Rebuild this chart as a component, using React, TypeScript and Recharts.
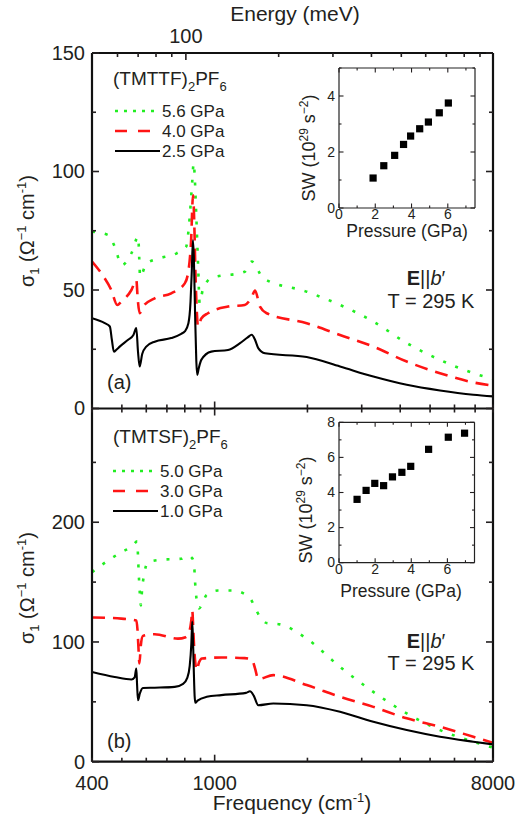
import React from 'react';
import { LineChart, Line, XAxis, YAxis, ScatterChart, Scatter } from 'recharts';

const FONT = '"Liberation Sans", Arial, Helvetica, sans-serif';
const TXT = '#231f20';
const GREEN = '#22ee22';
const RED = '#ff1414';
const BLACK = '#000000';
const CM_PER_MEV = 8.0655;

// ---------- panel (a): (TMTTF)2PF6 ----------
const freqA56 = [400, 451, 475, 499, 537, 565, 569, 573, 600, 663, 753, 808, 830, 845, 855, 863, 872, 884, 894, 915, 975, 1252, 1319, 1438, 1989, 2551, 3272, 4199, 5385, 6907, 8000];
const sigA56 = [74.6, 73.2, 68, 60.5, 65.5, 72.5, 64, 55.6, 61, 63.4, 65.5, 68.3, 80.9, 95, 103.5, 96, 80.9, 60, 44.4, 50, 55, 57.7, 62, 55, 49.3, 43.7, 36.7, 27.6, 20.5, 14.9, 12.4];

const freqA40 = [400, 429, 462, 483, 498, 537, 557, 563, 571, 586, 639, 723, 800, 822, 838, 851, 858, 866, 876, 883, 905, 951, 1105, 1252, 1319, 1352, 1403, 1475, 1989, 2551, 3272, 4199, 5385, 6907, 8000];
const sigA40 = [62, 57, 50, 43.7, 45.1, 50, 54.2, 46, 40.2, 43, 46.5, 48.6, 52.8, 58, 70, 90, 80, 58, 40, 34.6, 38, 40.2, 43, 43.7, 47, 49.8, 43, 40.2, 36, 31, 26.1, 19.8, 14.9, 11, 9.6];

const freqA25 = [400, 440, 457, 464, 471, 480, 492, 524, 545, 557, 564, 571, 582, 600, 639, 723, 779, 800, 822, 835, 843, 850, 856, 864, 872, 878, 888, 905, 975, 1105, 1209, 1280, 1319, 1352, 1385, 1457, 1989, 2551, 3272, 4199, 5385, 6907, 8000];
const sigA25 = [38.1, 36.0, 34.6, 29.0, 24.0, 24.8, 26.1, 29.0, 31.0, 33.9, 24.0, 17.7, 23.0, 26.1, 28.2, 29.7, 31.5, 32.5, 36.0, 45.0, 58.0, 71.0, 64.0, 40.0, 20.0, 14.2, 17.0, 20.5, 24.0, 24.7, 27.6, 30.0, 31.1, 29.0, 25.5, 23.3, 21.7, 17.7, 13.5, 10.0, 7.6, 5.8, 5.1];

// ---------- panel (b): (TMTSF)2PF6 ----------
const freqB50 = [400, 451, 498, 540, 561, 564, 567, 572, 576, 582, 590, 608, 671, 779, 819, 845, 857, 864, 872, 882, 890, 915, 940, 1025, 1150, 1252, 1300, 1340, 1403, 1475, 1629, 1989, 2551, 3272, 4199, 5385, 6907, 8000];
const sigB50 = [158.3, 168, 175, 180, 184, 172, 158, 140, 130.6, 145, 156, 166.7, 168.7, 169.5, 172.2, 170, 165.3, 150, 137.5, 130, 128, 133, 139, 143, 143, 140, 137, 131, 120.8, 115.8, 114.7, 102.8, 79.2, 58.3, 40.3, 26.4, 16.7, 11.7];

const freqB30 = [400, 498, 557, 562, 566, 570, 576, 585, 639, 760, 805, 830, 840, 846, 852, 858, 866, 874, 890, 910, 1051, 1252, 1319, 1352, 1385, 1550, 1989, 2551, 3272, 4199, 5385, 6907, 8000];
const sigB30 = [120.5, 119.5, 118, 110, 95, 82, 97, 105, 106.5, 102.8, 104, 110, 118, 126.4, 112, 95, 82, 76.4, 83, 86.2, 87, 86.5, 85.5, 78, 69, 72.3, 64, 54.2, 45.8, 36.2, 29.2, 20.8, 15.8];

const freqB10 = [400, 474, 537, 550, 557, 560, 564, 572, 585, 639, 742, 790, 815, 830, 840, 846, 851, 856, 861, 866, 880, 943, 1051, 1264, 1302, 1340, 1385, 1550, 1989, 2551, 3272, 4199, 5385, 6907, 8000];
const sigB10 = [75, 70.8, 68.7, 70.5, 77.8, 65, 51.4, 57, 61.5, 61.8, 62.5, 65, 70, 80, 98, 117, 100, 75, 55, 49.2, 51, 54.2, 55.6, 57.5, 58.8, 55, 47.2, 48.6, 47.2, 41.7, 33.3, 26.4, 20.8, 16.7, 14.5];

// ---------- insets: spectral weight vs pressure ----------
const pressA = [1.88, 2.47, 3.07, 3.56, 3.95, 4.45, 4.93, 5.53, 6.03];
const swA = [1.07, 1.51, 1.88, 2.27, 2.57, 2.83, 3.07, 3.40, 3.75];
const pressB = [1.0, 1.5, 1.98, 2.47, 2.96, 3.48, 3.97, 4.96, 6.05, 6.95];
const swB = [3.61, 4.12, 4.52, 4.39, 4.89, 5.15, 5.49, 6.46, 7.15, 7.38];

// ---------- ticks ----------
const freqTicks = [400, 500, 600, 700, 800, 900, 1000, 2000, 3000, 4000, 5000, 6000, 7000, 8000];
const freqMajor = [1000];
const freqLabels = [400, 1000, 8000];
const energyTicksMeV = [60, 70, 80, 90, 100, 200, 300, 400, 500, 600, 700, 800, 900];
const energyMajorMeV = [100];
const sigTicksA = [0, 25, 50, 75, 100, 125, 150];
const sigMajorA = [0, 50, 100, 150];
const sigTicksB = [0, 50, 100, 150, 200, 250];
const sigMajorB = [0, 100, 200];
const pTicks = [0, 1, 2, 3, 4, 5, 6, 7];
const pMajor = [0, 2, 4, 6];
const swTicksA = [0, 1, 2, 3, 4, 5];
const swMajorA = [0, 2, 4];
const swTicksB = [0, 1, 2, 3, 4, 5, 6, 7, 8];
const swMajorB = [0, 2, 4, 6, 8];

const energyTicksCm = energyTicksMeV.map((e) => e * CM_PER_MEV);
const energyMajorCm = energyMajorMeV.map((e) => e * CM_PER_MEV);

const toPts = (f: number[], s: number[]) => f.map((x, i) => ({ f: x, s: s[i] }));
const toP = (p: number[], w: number[]) => p.map((x, i) => ({ p: x, sw: w[i] }));

type Orient = 'bottom' | 'top' | 'left' | 'right';
interface TickCfg {
  orient: Orient;
  majors: number[];
  labels?: number[];
  fmt?: (v: number) => string;
  major: number;
  minor: number;
  offset?: number;
  fontSize?: number;
  sw?: number;
}
const near = (arr: number[], v: number) => arr.some((a) => Math.abs(a - v) < 1e-6 * Math.max(1, Math.abs(a)));

function makeTick(c: TickCfg) {
  return (p: any) => {
    const x = Number(p.x);
    const y = Number(p.y);
    const v = Number(p.payload ? p.payload.value : NaN);
    const L = near(c.majors, v) ? c.major : c.minor;
    const show = c.labels ? near(c.labels, v) : false;
    const label = show ? (c.fmt ? c.fmt(v) : String(v)) : null;
    const fs = c.fontSize ?? 20;
    const off = c.offset ?? 8;
    let x2 = x, y2 = y, tx = x, ty = y;
    let anchor: 'middle' | 'end' | 'start' = 'middle';
    let dy = '0';
    if (c.orient === 'bottom') { y2 = y - L; ty = y + off; }
    else if (c.orient === 'top') { y2 = y + L; ty = y - off; }
    else if (c.orient === 'left') { x2 = x + L; tx = x - off; anchor = 'end'; dy = '0.34em'; }
    else { x2 = x - L; tx = x + off; anchor = 'start'; dy = '0.34em'; }
    return (
      <g>
        <line x1={x} y1={y} x2={x2} y2={y2} stroke={TXT} strokeWidth={c.sw ?? 1.6} />
        {label !== null && (
          <text x={tx} y={ty} dy={dy} textAnchor={anchor} fontSize={fs} fill={TXT} fontFamily={FONT}>
            {label}
          </text>
        )}
      </g>
    );
  };
}

const frame = { stroke: '#111', strokeWidth: 2.2 };
const insetFrame = { stroke: '#222', strokeWidth: 1.2 };

const lineStyles = {
  green: { stroke: GREEN, strokeWidth: 2.6, strokeDasharray: '3 10' },
  red: { stroke: RED, strokeWidth: 2.6, strokeDasharray: '13 8' },
  black: { stroke: BLACK, strokeWidth: 2.1 },
};

function MainPanel(props: {
  top: number; height: number; margin: any; yDomain: [number, number]; yTicks: number[]; yMajor: number[];
  yLabels: number[]; showEnergy: boolean; showFreqLabels: boolean; drawTopLine: boolean;
  series: { data: { f: number; s: number }[]; style: any; name: string }[];
}) {
  const p = props;
  return (
    <div style={{ position: 'absolute', left: 0, top: p.top }}>
      <LineChart width={520} height={p.height} margin={p.margin}>
        <XAxis
          xAxisId="b" dataKey="f" type="number" scale="log" domain={[400, 8000]} allowDataOverflow
          ticks={freqTicks} interval={0} height={1} orientation="bottom" tickLine={false} tickSize={0} tickMargin={0}
          axisLine={frame}
          tick={makeTick({ orient: 'bottom', majors: freqMajor, labels: p.showFreqLabels ? freqLabels : [], major: 7, minor: 4, offset: 28 })}
        />
        {p.showEnergy ? (
          <XAxis
            xAxisId="t" dataKey="f" type="number" scale="log" domain={[400, 8000]} allowDataOverflow
            ticks={energyTicksCm} interval={0} height={1} orientation="top" tickLine={false} tickSize={0} tickMargin={0}
            axisLine={frame}
            tick={makeTick({ orient: 'top', majors: energyMajorCm, labels: energyMajorCm, fmt: (v) => String(Math.round(v / CM_PER_MEV)), major: 7, minor: 4, offset: 10 })}
          />
        ) : (
          <XAxis
            xAxisId="t" dataKey="f" type="number" scale="log" domain={[400, 8000]} allowDataOverflow
            ticks={freqTicks} interval={0} height={1} orientation="top" tickLine={false} tickSize={0} tickMargin={0}
            axisLine={p.drawTopLine ? frame : false}
            tick={makeTick({ orient: 'top', majors: freqMajor, labels: [], major: 7, minor: 4 })}
          />
        )}
        <YAxis
          yAxisId="l" type="number" domain={p.yDomain} allowDataOverflow ticks={p.yTicks} interval={0} width={1}
          orientation="left" tickLine={false} tickSize={0} tickMargin={0} axisLine={frame}
          tick={makeTick({ orient: 'left', majors: p.yMajor, labels: p.yLabels, major: 7, minor: 4, offset: 7 })}
        />
        <YAxis
          yAxisId="r" type="number" domain={p.yDomain} allowDataOverflow ticks={p.yTicks} interval={0} width={1}
          orientation="right" tickLine={false} tickSize={0} tickMargin={0} axisLine={frame}
          tick={makeTick({ orient: 'right', majors: p.yMajor, labels: [], major: 7, minor: 4 })}
        />
        <Line xAxisId="t" yAxisId="r" data={p.series[0].data} dataKey="s" stroke="none" dot={false} isAnimationActive={false} legendType="none" />
        {p.series.map((s) => (
          <Line
            key={s.name} name={s.name} xAxisId="b" yAxisId="l" data={s.data} dataKey="s" type="monotone"
            dot={false} isAnimationActive={false} {...s.style} strokeLinecap="butt" strokeLinejoin="round"
          />
        ))}
      </LineChart>
    </div>
  );
}

const squareShape = (p: any) => (
  <rect x={p.cx - 3.6} y={p.cy - 3.6} width={7.2} height={7.2} fill="#000" />
);
const emptyShape = () => <g />;

function Inset(props: { left: number; top: number; margin: any; data: { p: number; sw: number }[]; yDomain: [number, number]; yTicks: number[]; yMajor: number[] }) {
  const p = props;
  return (
    <div style={{ position: 'absolute', left: p.left, top: p.top }}>
      <ScatterChart width={200} height={200} margin={p.margin}>
        <XAxis xAxisId="b" dataKey="p" type="number" domain={[0, 7.5]} allowDataOverflow ticks={pTicks} interval={0} height={1}
          orientation="bottom" tickLine={false} tickSize={0} tickMargin={0} axisLine={insetFrame}
          tick={makeTick({ orient: 'bottom', majors: pMajor, labels: pMajor, major: 4.5, minor: 2.5, offset: 11, fontSize: 14, sw: 1.1 })} />
        <XAxis xAxisId="t" dataKey="p" type="number" domain={[0, 7.5]} allowDataOverflow ticks={pTicks} interval={0} height={1}
          orientation="top" tickLine={false} tickSize={0} tickMargin={0} axisLine={insetFrame}
          tick={makeTick({ orient: 'top', majors: pMajor, labels: [], major: 4.5, minor: 2.5, sw: 1.1 })} />
        <YAxis yAxisId="l" dataKey="sw" type="number" domain={p.yDomain} allowDataOverflow ticks={p.yTicks} interval={0} width={1}
          orientation="left" tickLine={false} tickSize={0} tickMargin={0} axisLine={insetFrame}
          tick={makeTick({ orient: 'left', majors: p.yMajor, labels: p.yMajor, major: 4.5, minor: 2.5, offset: 4, fontSize: 14, sw: 1.1 })} />
        <YAxis yAxisId="r" dataKey="sw" type="number" domain={p.yDomain} allowDataOverflow ticks={p.yTicks} interval={0} width={1}
          orientation="right" tickLine={false} tickSize={0} tickMargin={0} axisLine={insetFrame}
          tick={makeTick({ orient: 'right', majors: p.yMajor, labels: [], major: 4.5, minor: 2.5, sw: 1.1 })} />
        <Scatter xAxisId="t" yAxisId="r" data={p.data} shape={emptyShape} isAnimationActive={false} />
        <Scatter xAxisId="b" yAxisId="l" data={p.data} shape={squareShape} isAnimationActive={false} />
      </ScatterChart>
    </div>
  );
}

const SUB = 13;

export default function App() {
  const seriesA = [
    { name: '5.6 GPa', data: toPts(freqA56, sigA56), style: lineStyles.green },
    { name: '4.0 GPa', data: toPts(freqA40, sigA40), style: lineStyles.red },
    { name: '2.5 GPa', data: toPts(freqA25, sigA25), style: lineStyles.black },
  ];
  const seriesB = [
    { name: '5.0 GPa', data: toPts(freqB50, sigB50), style: lineStyles.green },
    { name: '3.0 GPa', data: toPts(freqB30, sigB30), style: lineStyles.red },
    { name: '1.0 GPa', data: toPts(freqB10, sigB10), style: lineStyles.black },
  ];
  const legendA = [
    { label: '5.6 GPa', y: 111, x2: 160, st: { stroke: GREEN, strokeWidth: 2.6, strokeDasharray: '3 6' } },
    { label: '4.0 GPa', y: 131, x2: 151, st: { stroke: RED, strokeWidth: 2.6, strokeDasharray: '12 11' } },
    { label: '2.5 GPa', y: 151, x2: 160, st: { stroke: BLACK, strokeWidth: 2.1 } },
  ];
  const legendB = [
    { label: '5.0 GPa', y: 471, x2: 158, st: { stroke: GREEN, strokeWidth: 2.6, strokeDasharray: '3 6' } },
    { label: '3.0 GPa', y: 491, x2: 149, st: { stroke: RED, strokeWidth: 2.6, strokeDasharray: '12 11' } },
    { label: '1.0 GPa', y: 511, x2: 158, st: { stroke: BLACK, strokeWidth: 2.1 } },
  ];
  return (
    <div style={{ position: 'absolute', left: 0, top: 0, width: 520, height: 821, background: '#fff', fontFamily: FONT, overflow: 'hidden' }}>
      <MainPanel
        top={0} height={420} margin={{ top: 52, right: 26, bottom: 10.5, left: 91 }}
        yDomain={[0, 150]} yTicks={sigTicksA} yMajor={sigMajorA} yLabels={sigMajorA}
        showEnergy showFreqLabels={false} drawTopLine series={seriesA}
      />
      <MainPanel
        top={400} height={421} margin={{ top: 7.5, right: 26, bottom: 58.3, left: 91 }}
        yDomain={[0, 295]} yTicks={sigTicksB} yMajor={sigMajorB} yLabels={sigMajorB}
        showEnergy={false} showFreqLabels drawTopLine={false} series={seriesB}
      />
      <Inset left={280} top={40} margin={{ top: 27, right: 4, bottom: 31, left: 58 }} data={toP(pressA, swA)} yDomain={[0, 5]} yTicks={swTicksA} yMajor={swMajorA} />
      <Inset left={280} top={400} margin={{ top: 21.3, right: 4.5, bottom: 36.3, left: 58 }} data={toP(pressB, swB)} yDomain={[0, 8]} yTicks={swTicksB} yMajor={swMajorB} />

      <svg width={520} height={821} style={{ position: 'absolute', left: 0, top: 0, pointerEvents: 'none' }} fontFamily={FONT} fill={TXT}>
        <text x={295} y={21} textAnchor="middle" fontSize={21}>Energy (meV)</text>
        <text x={292} y={810} textAnchor="middle" fontSize={21}>
          Frequency (cm<tspan fontSize={SUB} dy={-8}>-1</tspan><tspan dy={8}>)</tspan>
        </text>
        {[231, 588].map((cy) => (
          <text key={cy} transform={`translate(34,${cy}) rotate(-90)`} textAnchor="middle" fontSize={20}>
            σ<tspan fontSize={SUB} dy={5}>1</tspan><tspan dy={-5}> (Ω</tspan><tspan fontSize={SUB} dy={-8}>−1</tspan><tspan dy={8}> cm</tspan><tspan fontSize={SUB} dy={-8}>-1</tspan><tspan dy={8}>)</tspan>
          </text>
        ))}
        <text x={407} y={237} textAnchor="middle" fontSize={17.5}>Pressure (GPa)</text>
        <text x={401} y={597} textAnchor="middle" fontSize={17.5}>Pressure (GPa)</text>
        {[[315, 148], [312, 510]].map(([tx, ty]) => (
          <text key={ty} transform={`translate(${tx},${ty}) rotate(-90)`} textAnchor="middle" fontSize={18}>
            SW (10<tspan fontSize={12} dy={-7}>29</tspan><tspan dy={7}> s</tspan><tspan fontSize={12} dy={-7}>−2</tspan><tspan dy={7}>)</tspan>
          </text>
        ))}
        <text x={113} y={85} fontSize={19}>
          (TMTTF)<tspan fontSize={SUB} dy={6}>2</tspan><tspan dy={-6}>PF</tspan><tspan fontSize={SUB} dy={6}>6</tspan>
        </text>
        <text x={113} y={443} fontSize={19}>
          (TMTSF)<tspan fontSize={SUB} dy={6}>2</tspan><tspan dy={-6}>PF</tspan><tspan fontSize={SUB} dy={6}>6</tspan>
        </text>
        {legendA.map((l) => (
          <g key={l.label}>
            <line x1={115} x2={l.x2} y1={l.y} y2={l.y} {...l.st} />
            <text x={162} y={l.y + 6} fontSize={17}>{l.label}</text>
          </g>
        ))}
        {legendB.map((l) => (
          <g key={l.label}>
            <line x1={113} x2={l.x2} y1={l.y} y2={l.y} {...l.st} />
            <text x={160} y={l.y + 6} fontSize={17}>{l.label}</text>
          </g>
        ))}
        <text x={426} y={285} textAnchor="middle" fontSize={20}>
          <tspan fontWeight="bold">E</tspan>||<tspan fontStyle="italic">b</tspan>′
        </text>
        <text x={431} y={308} textAnchor="middle" fontSize={20}>T = 295 K</text>
        <text x={426} y={648} textAnchor="middle" fontSize={20}>
          <tspan fontWeight="bold">E</tspan>||<tspan fontStyle="italic">b</tspan>′
        </text>
        <text x={431} y={670} textAnchor="middle" fontSize={20}>T = 295 K</text>
        <text x={107} y={389} fontSize={20}>(a)</text>
        <text x={107} y={748} fontSize={20}>(b)</text>
      </svg>
    </div>
  );
}
